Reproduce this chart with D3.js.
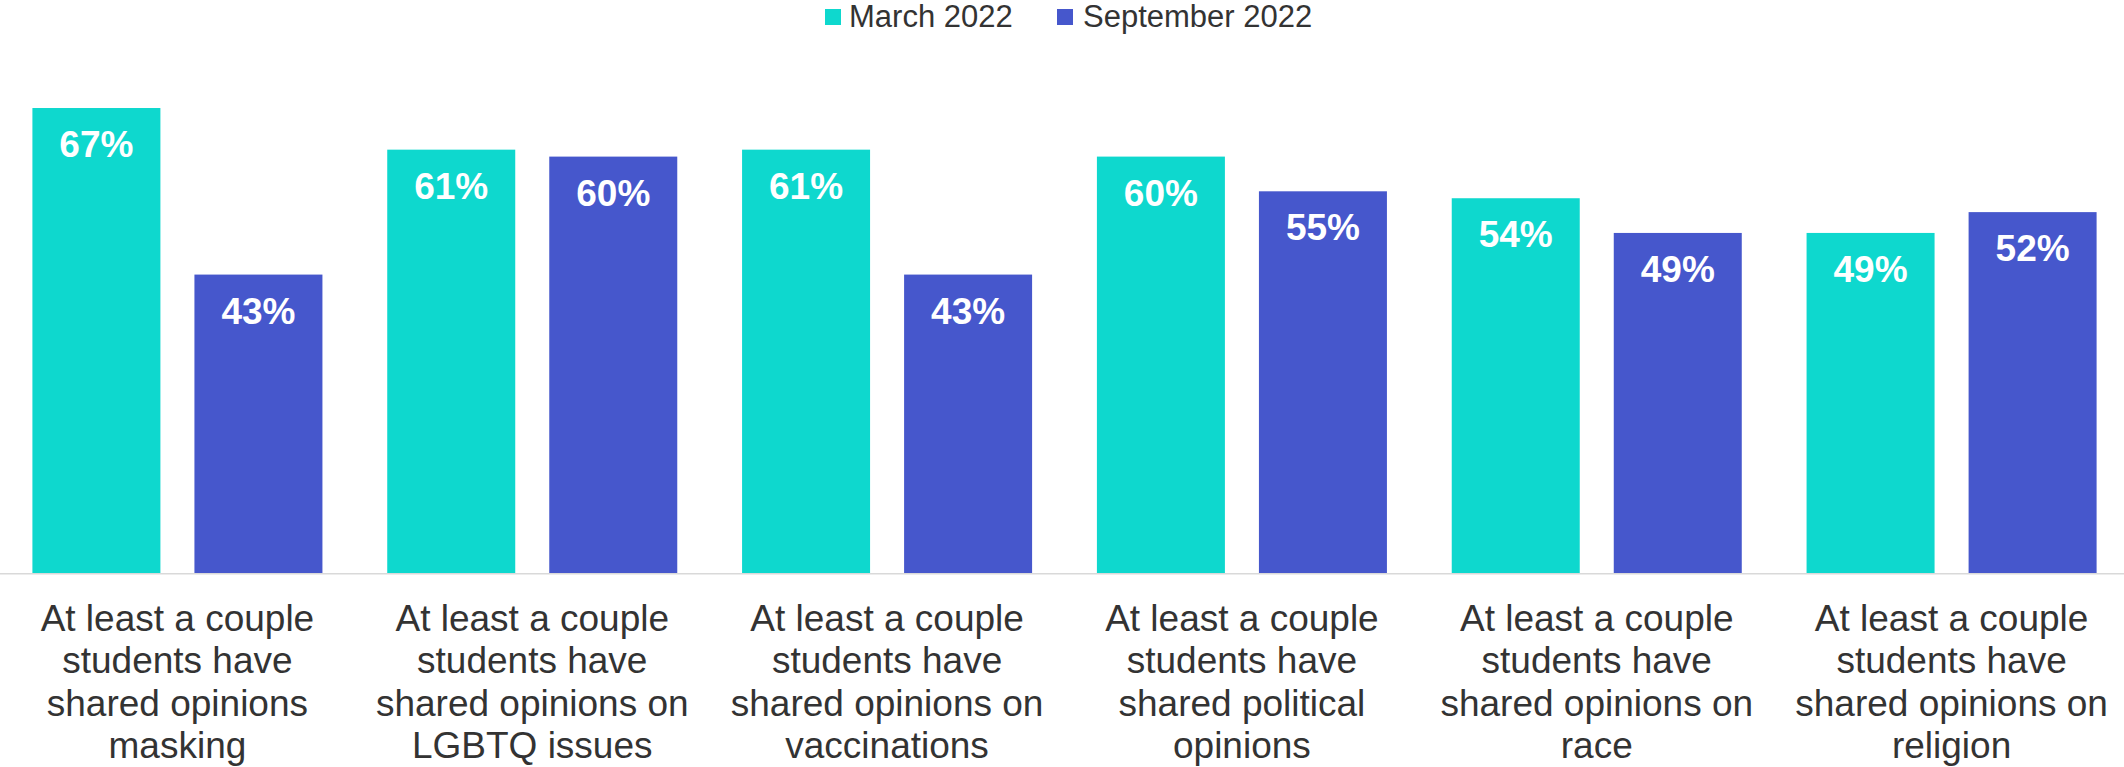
<!DOCTYPE html>
<html>
<head>
<meta charset="utf-8">
<script src="https://cdn.jsdelivr.net/npm/d3@7"></script>
<style>
  html, body { margin: 0; padding: 0; background: #fff; }
  svg { display: block; font-family: "Liberation Sans", Arial, sans-serif; }
</style>
</head>
<body>
<svg id="chart" width="2124" height="767"></svg>
<script>
const categories = [
  ["At least a couple", "students have", "shared opinions", "masking"],
  ["At least a couple", "students have", "shared opinions on", "LGBTQ issues"],
  ["At least a couple", "students have", "shared opinions on", "vaccinations"],
  ["At least a couple", "students have", "shared political", "opinions"],
  ["At least a couple", "students have", "shared opinions on", "race"],
  ["At least a couple", "students have", "shared opinions on", "religion"]
];
const seriesNames = ["March 2022", "September 2022"];
const march2022 = [67, 61, 61, 60, 54, 49];
const september2022 = [43, 60, 43, 55, 49, 52];
const seriesColors = ["#0ED8CE", "#4657CC"];

const seriesValues = [march2022, september2022];
const svg = d3.select("#chart");

const baseY = 573;
const x0 = d3.scaleBand().domain(d3.range(categories.length)).range([0, 2129]).paddingInner(0).paddingOuter(0);
const x1 = d3.scaleBand().domain(d3.range(seriesNames.length)).range([0, x0.bandwidth()]).paddingInner(0.21).paddingOuter(0.2);
const y = d3.scaleLinear().domain([0, 100]).range([baseY, baseY - 694]);
const color = d3.scaleOrdinal().domain(d3.range(seriesNames.length)).range(seriesColors);

const rows = categories.map((c, i) => ({ i, vals: seriesValues.map((s, j) => ({ j, v: s[i] })) }));

const g = svg.append("g").selectAll("g").data(rows).join("g")
  .attr("transform", d => `translate(${x0(d.i)},0)`);

g.selectAll("rect").data(d => d.vals).join("rect")
  .attr("x", d => x1(d.j))
  .attr("width", x1.bandwidth())
  .attr("y", d => y(d.v))
  .attr("height", d => y(0) - y(d.v))
  .attr("fill", d => color(d.j));

g.selectAll("text.val").data(d => d.vals).join("text")
  .attr("class", "val")
  .attr("x", d => x1(d.j) + x1.bandwidth() / 2)
  .attr("y", d => y(d.v) + 49)
  .attr("text-anchor", "middle")
  .attr("fill", "#fff")
  .attr("font-weight", "bold")
  .attr("font-size", 37)
  .text(d => d.v + "%");

// axis line
svg.append("line")
  .attr("x1", 0).attr("x2", 2124)
  .attr("y1", baseY + 0.75).attr("y2", baseY + 0.75)
  .attr("stroke", "#D9D9D9").attr("stroke-width", 1.5);

// category labels
const labels = svg.append("g").selectAll("text").data(categories).join("text")
  .attr("x", (d, i) => x0(i) + x0.bandwidth() / 2)
  .attr("text-anchor", "middle")
  .attr("fill", "#333333")
  .attr("font-size", 37);
labels.selectAll("tspan").data(d => d).join("tspan")
  .attr("x", function() { return d3.select(this.parentNode).attr("x"); })
  .attr("y", (d, k) => 631 + k * 42.3)
  .text(d => d);

// legend
const legendItems = [
  { name: seriesNames[0], sx: 825, tx: 849 },
  { name: seriesNames[1], sx: 1057, tx: 1083 }
];
const lg = svg.append("g").selectAll("g").data(legendItems).join("g");
lg.append("rect")
  .attr("x", d => d.sx).attr("y", 9).attr("width", 16).attr("height", 16)
  .attr("fill", (d, i) => color(i));
lg.append("text")
  .attr("x", d => d.tx).attr("y", 27)
  .attr("font-size", 31).attr("fill", "#333333")
  .text(d => d.name);
</script>
</body>
</html>
